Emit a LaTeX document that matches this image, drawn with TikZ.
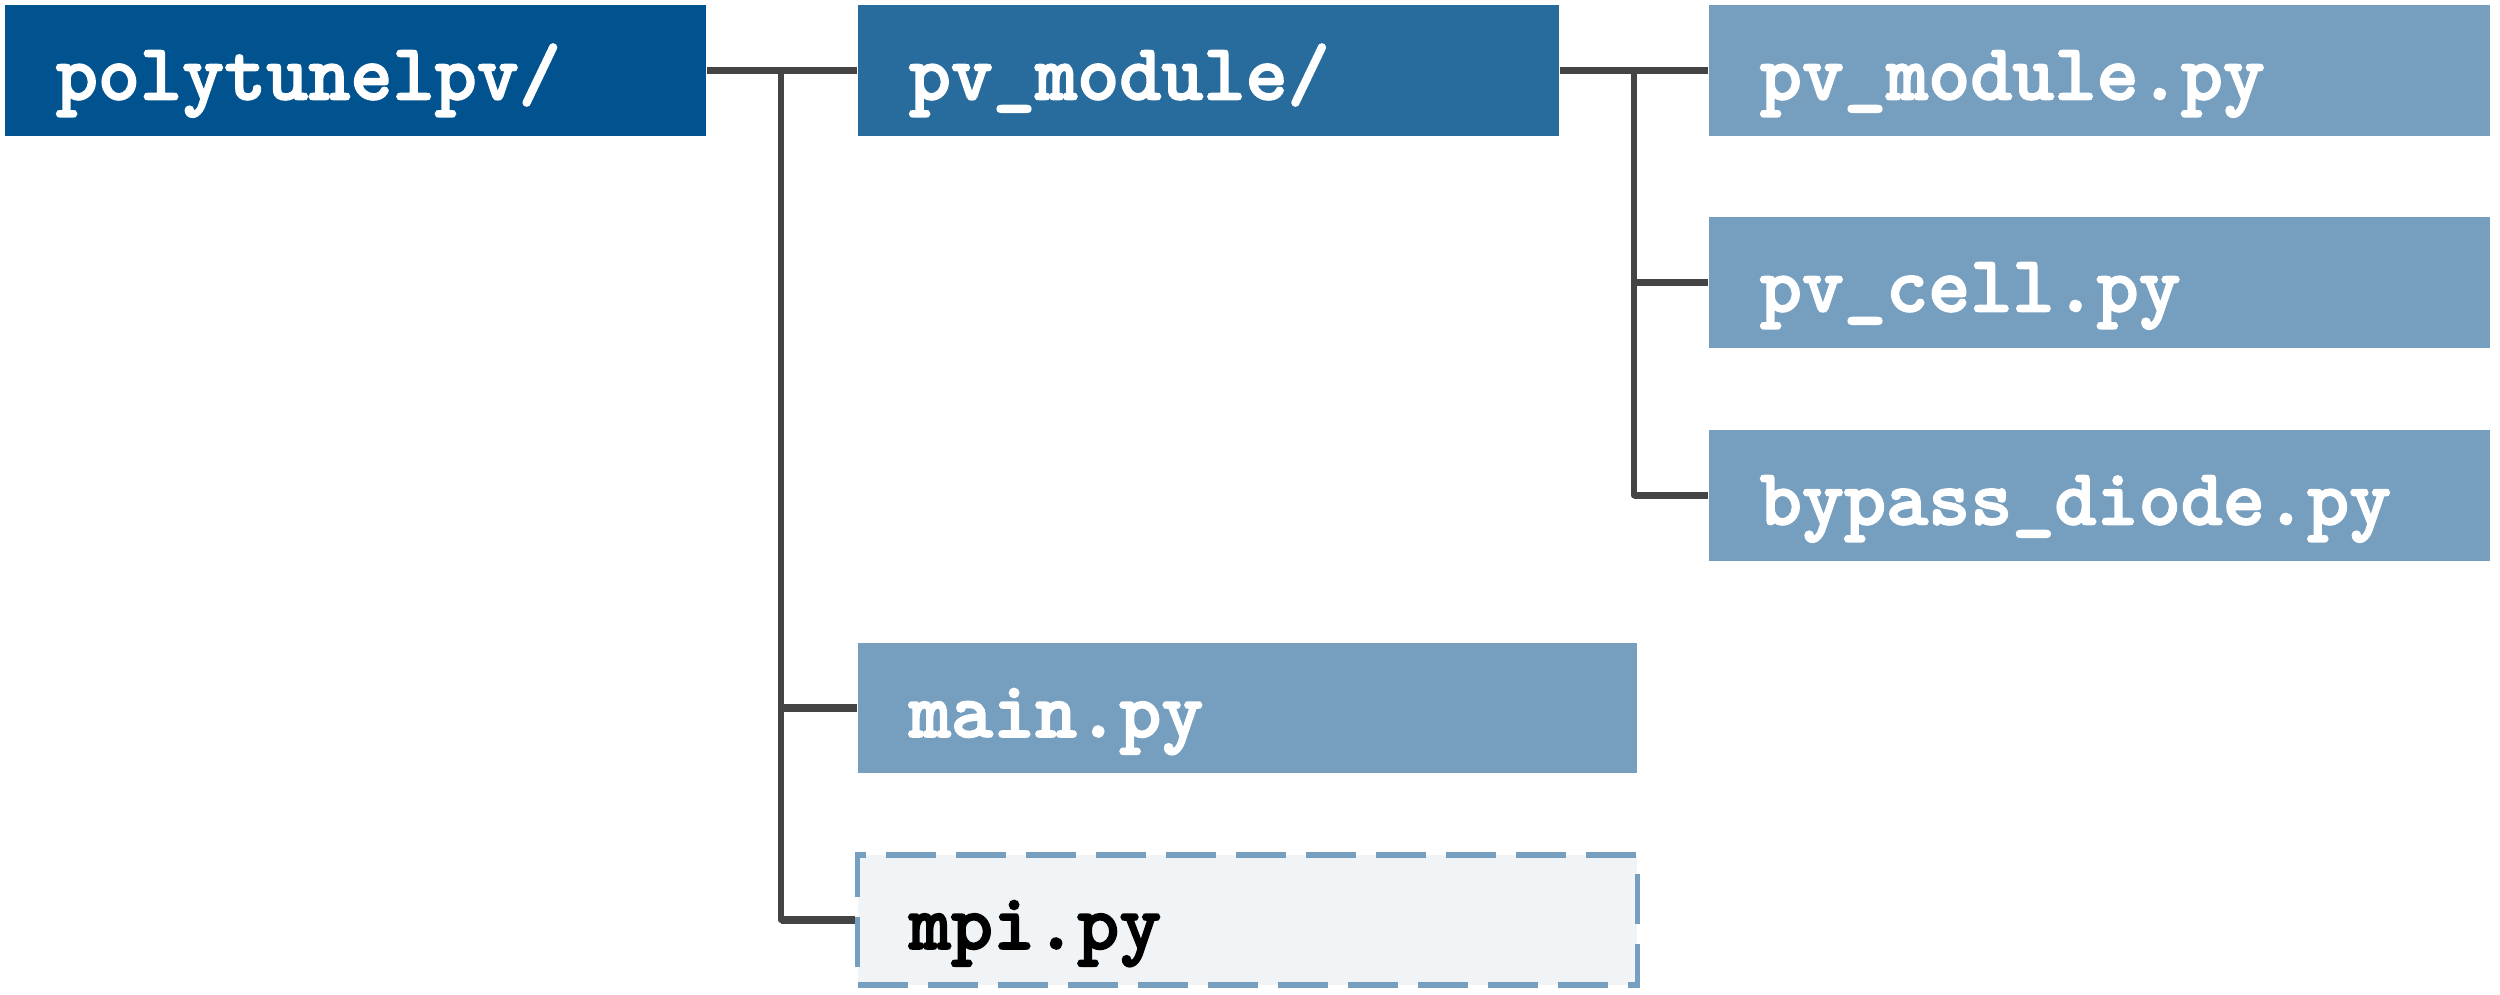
\documentclass[tikz,border=0pt]{standalone}
\usepackage{fontspec}
\newfontfamily\boxfont[FakeBold=2]{lmmonolt10-bold.otf}
\definecolor{rootc}{HTML}{01538F}
\definecolor{dirc}{HTML}{276C9D}
\definecolor{filec}{HTML}{769FBF}
\definecolor{optc}{HTML}{F0F4F7}
\definecolor{linec}{HTML}{444444}
\tikzset{
  box/.style={rectangle, inner xsep=0.51cm, inner ysep=0pt, minimum height=1.31cm,
    text height=0.70cm, text depth=0.12cm, align=left,
    font=\boxfont\fontsize{22.8}{26}\selectfont, text=white},
  rootbox/.style={box, fill=rootc},
  dirbox/.style={box, fill=dirc},
  filebox/.style={box, fill=filec},
  optbox/.style={box, fill=optc, draw=filec, line width=1.5pt, dash pattern=on 0.5cm off 0.2cm, text=black},
  conn/.style={draw=linec, line width=1.7pt},
  stub/.style={draw=linec, line width=2.2pt},
}
\begin{document}
\begin{tikzpicture}[x=0.01cm, y=-0.01cm]
\useasboundingbox (0,0) rectangle (2500,995);
\node[rootbox, text width=5.99cm, minimum width=7.01cm] (root) at (355.5,70.5) {polytunelpv/};
\node[dirbox, text width=5.99cm, minimum width=7.01cm] (pvmod) at (1208.5,70.5) {pv\_module/};
\node[filebox, text width=6.79cm, minimum width=7.81cm] (pvmodpy) at (2099.5,70.5) {pv\_module.py};
\node[filebox, text width=6.79cm, minimum width=7.81cm] (pvcell) at (2099.5,282.5) {pv\_cell.py};
\node[filebox, text width=6.79cm, minimum width=7.81cm] (bypass) at (2099.5,495.5) {bypass\_diode.py};
\node[filebox, text width=6.77cm, minimum width=7.79cm, minimum height=1.30cm] (main) at (1247.5,708) {main.py};
\node[optbox, text width=6.77cm, minimum width=7.79cm, minimum height=1.30cm] (mpi) at (1247.5,920) {mpi.py};
\coordinate (j1) at (781,70.5);
\coordinate (j2) at (1634,70.5);
\coordinate (j1m) at (781,708);
\coordinate (j1b) at (781,920);
\coordinate (j2c) at (1634,282.5);
\coordinate (j2b) at (1634,495.5);
\draw[stub] (root.east) -- (pvmod.west);
\draw[conn, line cap=round] (j1) -- (j1b);
\draw[stub] (j1m) -- (main.west);
\draw[stub] (j1b) -- (mpi.west);
\draw[stub] (pvmod.east) -- (pvmodpy.west);
\draw[conn, line cap=round] (j2) -- (j2b);
\draw[stub] (j2c) -- (pvcell.west);
\draw[stub] (j2b) -- (bypass.west);
\end{tikzpicture}
\end{document}
